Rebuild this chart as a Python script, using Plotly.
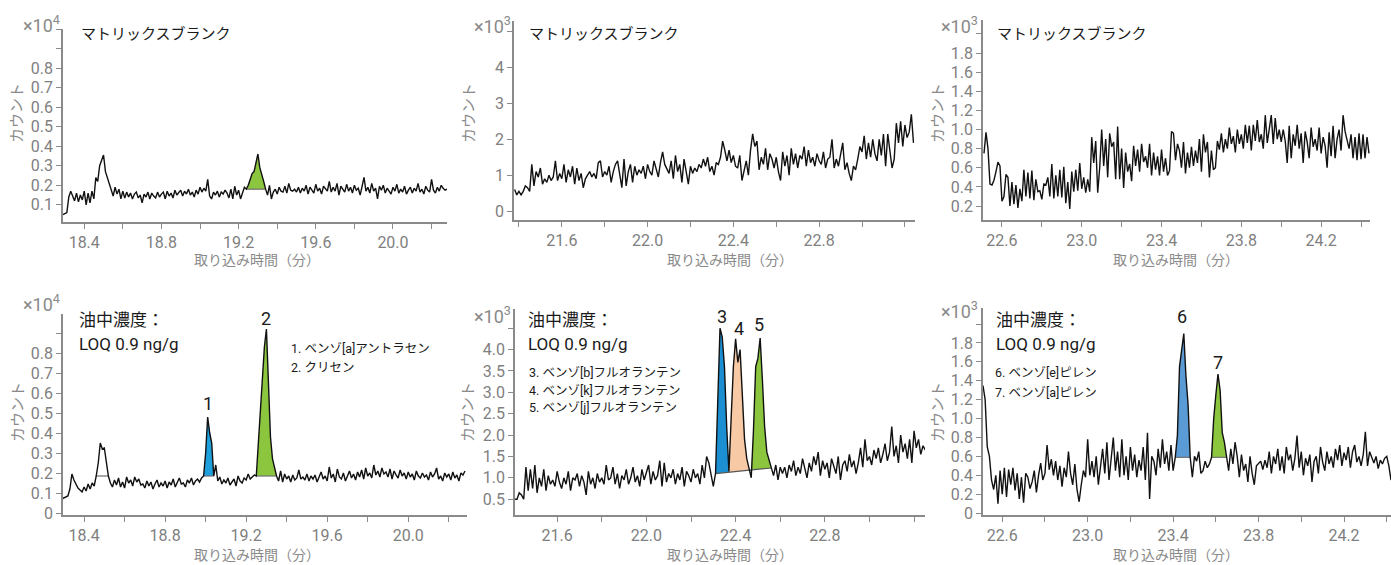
import numpy as np
import plotly.graph_objects as go

W, H = 1391, 565
DT = 0.01  # sampling interval (min)

# ---------------- data (counts) ----------------
# Panel A: top-left, matrix blank, start 18.29 min
a_t0 = 18.29
a_counts = [
    500, 550, 600, 1400, 1700, 1450, 1200, 1600, 1150, 1500,
    1250, 1700, 1000, 1600, 1100, 1700, 1300, 2400, 2200, 3000,
    3300, 3550, 2700, 2400, 2000, 1700, 1450, 1900, 1550, 1800,
    1300, 1700, 1350, 1650, 1400, 1600, 1300, 1550, 1650, 1350,
    1500, 1100, 1550, 1400, 1650, 1300, 1600, 1450, 1350, 1650,
    1400, 1550, 1650, 1300, 1700, 1450, 1600, 1350, 1750, 1500,
    1600, 1750, 1450, 1700, 1550, 1800, 1500, 1650, 1400, 1750,
    1550, 1900, 1650, 1850, 1700, 2300, 1450, 1300, 1650, 1500,
    1700, 1400, 1650, 1550, 1750, 1600, 1350, 1800, 1300, 1950,
    1500, 1750, 1300, 1650, 1900, 1800, 2000, 2300, 2600, 2700,
    3200, 3600, 2900, 2600, 2200, 1800, 1500, 2000, 1300, 1650,
    1800, 1550, 1900, 1700, 1650, 1950, 1600, 2100, 1750, 1700,
    1800, 1650, 1900, 1600, 1850, 1700, 2000, 1550, 1900, 1750,
    1600, 2050, 1700, 1850, 1550, 1950, 1800, 1700, 2200, 1650,
    1900, 1700, 2100, 1500, 1950, 1800, 1650, 2050, 1700, 1900,
    1600, 2000, 1750, 1850, 1500, 1950, 2400, 1700, 1900, 1600,
    2100, 1700, 1850, 1300, 1950, 1750, 2000, 1600, 1850, 1700,
    1550, 1900, 1700, 2050, 1600, 1800, 1650, 1950, 1550, 1750,
    1900, 1600, 1850, 1700, 2100, 1650, 1800, 1550, 1950, 1750,
    1650, 2300, 1750, 1600, 1900, 1700, 2000, 1850, 1750, 1800,
]

# Panel B: top-middle, matrix blank, start 21.38 min
b_t0 = 21.38
b_counts = [
    600, 450, 550, 450, 550, 700, 650, 550, 1300, 700,
    1100, 950, 1200, 750, 900, 800, 1000, 850, 950, 1400,
    850, 1050, 900, 1300, 800, 1150, 950, 1250, 750, 1200,
    850, 1050, 650, 900, 1000, 1100, 950, 1050, 900, 1350,
    1400, 950, 1100, 1000, 1250, 800, 1100, 1300, 1400, 1050,
    650, 1450, 700, 1100, 1300, 800, 1250, 1000, 1150, 1050,
    1250, 900, 1300, 1100, 1000, 1400, 1200, 950, 1350, 1650,
    1300, 1150, 1050, 1400, 900, 1550, 1100, 1300, 800, 1450,
    1150, 750, 1250, 1050, 1200, 1100, 1300, 1200, 1450, 1250,
    1500, 1100, 1250, 1000, 1350, 1300, 1500, 1950, 1700, 1400,
    1700, 1350, 1550, 1250, 1200, 1550, 850, 1100, 1400, 1000,
    1700, 2150, 1800, 1950, 1150, 1500, 1300, 1750, 1150, 1600,
    1450, 1200, 1500, 1100, 850, 1650, 1250, 1550, 1000, 1750,
    1300, 1600, 1200, 1550, 1450, 1800, 1250, 1700, 1350, 1500,
    1250, 1600, 1400, 1300, 1650, 1200, 1450, 1500, 2000, 1200,
    1450, 1250, 1550, 1900, 1150, 1350, 1050, 850, 1250, 1150,
    1450, 1800, 1650, 2100, 1450, 1900, 1500, 2000, 1600, 1400,
    2000, 1550, 2150, 1250, 2150, 1700, 1200, 1450, 2450, 1900,
    2500, 1800, 2400, 2050, 2200, 2700, 1900,
]

# Panel C: top-right, matrix blank, start 22.51 min
c_t0 = 22.51
c_counts = [
    750, 970, 800, 430, 420, 470, 560, 660, 620, 250,
    300, 530, 500, 200, 450, 220, 420, 180, 380, 250,
    580, 300, 550, 280, 570, 260, 480, 350, 360, 270,
    430, 420, 500, 300, 640, 280, 520, 300, 580, 290,
    610, 230, 450, 170, 560, 350, 580, 360, 650, 380,
    500, 340, 480, 350, 920, 650, 880, 340, 600, 1000,
    620, 900, 500, 960, 820, 870, 480, 1030, 480, 800,
    390, 760, 560, 640, 460, 830, 620, 790, 560, 850,
    660, 720, 600, 850, 520, 760, 580, 720, 520, 790,
    560, 700, 520, 570, 980, 960, 680, 850, 780, 600,
    870, 540, 760, 600, 820, 620, 780, 650, 900, 560,
    950, 760, 870, 500, 780, 580, 600, 880, 790, 960,
    760, 900, 800, 1020, 850, 930, 760, 1000, 850, 950,
    800, 1050, 860, 1040, 780, 1050, 880, 1100, 870, 950,
    800, 1150, 860, 1000, 1150, 850, 1120, 900, 1000, 870,
    1000, 880, 650, 1040, 700, 950, 830, 1050, 800, 960,
    650, 980, 870, 700, 1020, 820, 900, 780, 1020, 750,
    920, 830, 600, 970, 720, 1040, 700, 900, 1000, 780,
    1150, 980, 900, 800, 950, 700, 920, 680, 960, 690,
    950, 700, 920, 750,
]

# Panel D: bottom-left, oil sample, start 18.29 min
d_t0 = 18.29
d_counts = [
    700, 750, 800, 850, 1200, 1950, 1650, 1400, 1250, 1150,
    1050, 1300, 1100, 1450, 1200, 1500, 1350, 1850, 2500, 3500,
    3200, 3250, 2600, 1850, 1500, 1300, 1650, 1400, 1750, 1300,
    1550, 1250, 1800, 1500, 1650, 1350, 1800, 1550, 1700, 1400,
    1450, 1250, 1600, 1350, 1550, 1200, 1450, 1650, 1300, 1500,
    1350, 1600, 1250, 1550, 1400, 1700, 1300, 1550, 1750, 1450,
    1500, 1300, 1650, 1500, 1750, 1400, 1600, 1700, 1550, 1750,
    1850, 3000, 4800, 4000, 3500, 1850, 2400, 1600, 1800, 1450,
    1650, 1500, 1750, 1400, 1550, 1700, 1350, 1850, 1600, 1500,
    1750, 1650, 1950, 1700, 1800, 1900, 1850, 3500, 5500, 6900,
    8300, 9200, 6000, 3800, 2700, 2200, 1850, 1600, 2100, 1550,
    1950, 1700, 1850, 1550, 1900, 1650, 1750, 2150, 1700, 1800,
    1650, 1950, 1600, 1850, 1700, 1900, 1550, 1800, 2050, 1700,
    1850, 1600, 2300, 1750, 1950, 1550, 2200, 1800, 1700, 2000,
    1600, 1850, 2100, 1750, 1950, 1650, 2050, 1800, 2150, 1700,
    2250, 1850, 2000, 1750, 2400, 1900, 2100, 1800, 2250, 1950,
    2050, 1800, 2200, 1700, 2100, 1900, 1750, 2150, 1850, 2000,
    1700, 2050, 1800, 1950, 1650, 2100, 1850, 1750, 2000, 1800,
    1900, 1650, 2050, 1800, 1950, 2250, 1700, 1850, 1600, 2000,
    1800, 1950, 1650, 2050, 1750, 1900, 1600, 2000, 1900, 2100,
]

# Panel E: bottom-middle, oil sample, start 21.41 min
e_t0 = 21.41
e_counts = [
    500, 500, 650, 600, 500, 1250, 700, 1200, 750, 1300,
    650, 1000, 800, 1200, 700, 1050, 850, 950, 800, 1150,
    900, 750, 1000, 850, 1150, 700, 1000, 950, 1100, 800,
    1050, 900, 600, 1150, 850, 1000, 750, 1100, 900, 1000,
    850, 1300, 950, 1000, 1250, 850, 1100, 750, 1050, 950,
    1200, 850, 1000, 1250, 900, 1050, 800, 1200, 950, 1100,
    1300, 850, 1150, 950, 1050, 1400, 800, 1350, 900, 1100,
    1000, 1200, 850, 1100, 950, 1250, 800, 1150, 1050, 900,
    1200, 1000, 1100, 850, 1300, 1000, 1500, 1350, 1050, 800,
    1100, 2700, 4500, 4300, 3600, 2200, 1150, 2400, 3600, 4250,
    3700, 4000, 2900, 1900, 1450, 1200, 1000, 2100, 3600, 3800,
    4270, 3300, 2200, 1600, 1400, 1250, 1050, 1300, 950, 1250,
    1100, 1250, 1000, 1300, 1150, 1400, 1050, 1250, 1100, 1450,
    1200, 1000, 1350, 1150, 1500, 1300, 1600, 1050, 1400, 1200,
    1350, 1000, 1450, 1250, 1100, 1500, 950, 1300, 1400, 1150,
    1550, 1250, 1400, 1100, 1350, 1700, 1250, 1900, 1400, 1500,
    1300, 1650, 1450, 1700, 1350, 1550, 1800, 1400, 1600, 2200,
    1500, 1750, 1350, 2000, 1600, 1800, 1450, 1900, 1350, 2100,
    1700, 1900, 1550, 1750, 1650,
]

# Panel F: bottom-right, oil sample, start 22.51 min
f_t0 = 22.51
f_counts = [
    1350, 1200, 700, 600, 350, 250, 400, 100, 450, 200,
    480, 170, 460, 300, 480, 240, 420, 150, 380, 110,
    420, 380, 260, 330, 450, 220, 400, 530, 350, 420,
    720, 460, 570, 400, 550, 350, 500, 280, 480, 380,
    650, 420, 300, 520, 250, 120, 300, 450, 380, 780,
    400, 550, 380, 600, 300, 480, 680, 420, 750, 350,
    550, 800, 450, 650, 380, 780, 400, 600, 350, 700,
    450, 620, 380, 560, 450, 700, 350, 850, 150, 600,
    550, 400, 680, 480, 780, 520, 650, 450, 720, 450,
    590, 820, 1550, 1700, 1900, 1450, 1150, 590, 380, 600,
    550, 650, 420, 450, 550, 480, 520, 590, 1000, 1250,
    1470, 1300, 850, 750, 590, 450, 680, 520, 750, 600,
    380, 620, 450, 520, 330, 600, 420, 300, 500, 520,
    550, 460, 560, 480, 650, 420, 600, 520, 680, 450,
    600, 420, 700, 560, 620, 450, 580, 820, 480, 650,
    400, 580, 500, 620, 330, 550, 600, 420, 700, 540,
    450, 650, 520, 600, 480, 680, 560, 720, 500, 640,
    560, 700, 480, 650, 720, 540, 600, 500, 620, 860,
    500, 650, 580, 530, 600, 470, 560, 520, 580, 600,
    500, 350,
]

# integrated peak windows: (start, end, baseline at start, baseline at end, fill colour)
GREEN = "#8cc63f"
BLUE1 = "#1ea0dc"
BLUE3 = "#1b8fd2"
BLUE6 = "#5b9bd5"
PEACH = "#f8c9a5"
a_peaks = [(19.24, 19.34, 1800, 1800, GREEN)]
d_peaks = [(18.46, 18.52, 1850, 1850, None),
           (18.99, 19.04, 1850, 1850, BLUE1),
           (19.25, 19.35, 1850, 1850, GREEN)]
e_base = (22.31, 22.56, 1100, 1230)
e_peaks = [(22.31, 22.37, BLUE3), (22.37, 22.46, PEACH), (22.47, 22.56, GREEN)]
f_peaks = [(23.41, 23.48, 590, 590, BLUE6),
           (23.58, 23.65, 590, 590, GREEN)]

# tick definitions
x_ticks_a = [18.4, 18.6, 18.8, 19.0, 19.2, 19.4, 19.6, 19.8, 20.0, 20.2]
x_lbls_a = ["18.4", "", "18.8", "", "19.2", "", "19.6", "", "20.0", ""]
x_ticks_b = [21.4, 21.6, 21.8, 22.0, 22.2, 22.4, 22.6, 22.8, 23.0, 23.2]
x_lbls_b = ["", "21.6", "", "22.0", "", "22.4", "", "22.8", "", ""]
x_ticks_c = [22.6, 22.8, 23.0, 23.2, 23.4, 23.6, 23.8, 24.0, 24.2, 24.4]
x_lbls_c = ["22.6", "", "23.0", "", "23.4", "", "23.8", "", "24.2", ""]

y_ticks_a = [1000, 2000, 3000, 4000, 5000, 6000, 7000, 8000, 9000, 10000]
y_lbls_a = ["0.1", "0.2", "0.3", "0.4", "0.5", "0.6", "0.7", "0.8", "", ""]
y_ticks_b = [0, 1000, 2000, 3000, 4000, 5000]
y_lbls_b = ["0", "1", "2", "3", "4", ""]
y_ticks_c = [200, 400, 600, 800, 1000, 1200, 1400, 1600, 1800, 2000]
y_lbls_c = ["0.2", "0.4", "0.6", "0.8", "1.0", "1.2", "1.4", "1.6", "1.8", ""]
y_ticks_d = [0, 1000, 2000, 3000, 4000, 5000, 6000, 7000, 8000, 9000, 10000]
y_lbls_d = ["0", "0.1", "0.2", "0.3", "0.4", "0.5", "0.6", "0.7", "0.8", "", ""]
y_ticks_e = [500, 1000, 1500, 2000, 2500, 3000, 3500, 4000, 4500]
y_lbls_e = ["0.5", "1.0", "1.5", "2.0", "2.5", "3.0", "3.5", "4.0", ""]
y_ticks_f = [0, 200, 400, 600, 800, 1000, 1200, 1400, 1600, 1800, 2000]
y_lbls_f = ["0", "0.2", "0.4", "0.6", "0.8", "1.0", "1.2", "1.4", "1.6", "1.8", ""]

# ---------------- figure ----------------
FONT = "Roboto, 'Noto Sans CJK JP', sans-serif"
AX = "#8a8a8a"
TICKC = "#808080"


def px(x):
    return x / W


def py(y):
    return 1 - y / H


def sampling(t0, n):
    return np.round(t0 + DT * np.arange(n), 2)


panels = [
    dict(t0=a_t0, y=a_counts, dx=(63, 447), dy=(29, 222), xr=[18.29, 20.28], yr=[120, 10000],
         xt=x_ticks_a, xl=x_lbls_a, yt=y_ticks_a, yl=y_lbls_a),
    dict(t0=b_t0, y=b_counts, dx=(514, 915), dy=(21, 220), xr=[21.377, 23.247], yr=[-250, 5300],
         xt=x_ticks_b, xl=x_lbls_b, yt=y_ticks_b, yl=y_lbls_b),
    dict(t0=c_t0, y=c_counts, dx=(983, 1370), dy=(20, 220), xr=[22.505, 24.445], yr=[54, 2145],
         xt=x_ticks_c, xl=x_lbls_c, yt=y_ticks_c, yl=y_lbls_c),
    dict(t0=d_t0, y=d_counts, dx=(63, 467), dy=(314, 515), xr=[18.296, 20.29], yr=[-100, 9950],
         xt=x_ticks_a, xl=x_lbls_a, yt=y_ticks_d, yl=y_lbls_d),
    dict(t0=e_t0, y=e_counts, dx=(515, 925), dy=(309, 515), xr=[21.411, 23.249], yr=[130, 4950],
         xt=x_ticks_b, xl=x_lbls_b, yt=y_ticks_e, yl=y_lbls_e),
    dict(t0=f_t0, y=f_counts, dx=(983, 1391), dy=(308, 515), xr=[22.51, 24.42], yr=[-20, 2170],
         xt=x_ticks_c, xl=x_lbls_c, yt=y_ticks_f, yl=y_lbls_f),
]

fig = go.Figure()
layout = dict(template="none", width=W, height=H,
              margin=dict(l=0, r=0, t=0, b=0, autoexpand=False),
              paper_bgcolor="white", plot_bgcolor="white", showlegend=False,
              font=dict(family=FONT))


def add_peak(t, y, t0, t1, b0, b1, color, xa, ya):
    mask = (t >= t0 - 1e-9) & (t <= t1 + 1e-9)
    tt = t[mask]
    base = np.interp(tt, [t0, t1], [b0, b1])
    if color is not None:
        yy = np.maximum(y[mask], base)
        fig.add_trace(go.Scatter(x=list(tt) + [t1, t0], y=list(yy) + [b1, b0],
                                 fill="toself", fillcolor=color, mode="lines",
                                 line=dict(width=0), xaxis=xa, yaxis=ya, hoverinfo="skip"))


for i, p in enumerate(panels):
    k = "" if i == 0 else str(i + 1)
    xa, ya = "x" + k, "y" + k
    t = sampling(p["t0"], len(p["y"]))
    y = np.array(p["y"], dtype=float)

    if i == 0:
        for (t0, t1, b0, b1, c) in a_peaks:
            add_peak(t, y, t0, t1, b0, b1, c, xa, ya)
            fig.add_trace(go.Scatter(x=[t0, t1], y=[b0, b1], mode="lines",
                                     line=dict(color="#6e6e6e", width=1.2), xaxis=xa, yaxis=ya))
    if i == 3:
        for (t0, t1, b0, b1, c) in d_peaks:
            add_peak(t, y, t0, t1, b0, b1, c, xa, ya)
            fig.add_trace(go.Scatter(x=[t0, t1], y=[b0, b1], mode="lines",
                                     line=dict(color="#6e6e6e", width=1.2), xaxis=xa, yaxis=ya))
    if i == 4:
        bt0, bt1, bb0, bb1 = e_base
        for (t0, t1, c) in e_peaks:
            b0 = float(np.interp(t0, [bt0, bt1], [bb0, bb1]))
            b1 = float(np.interp(t1, [bt0, bt1], [bb0, bb1]))
            add_peak(t, y, t0, t1, b0, b1, c, xa, ya)
        fig.add_trace(go.Scatter(x=[bt0, bt1], y=[bb0, bb1], mode="lines",
                                 line=dict(color="#555555", width=1.2), xaxis=xa, yaxis=ya))
    if i == 5:
        for (t0, t1, b0, b1, c) in f_peaks:
            add_peak(t, y, t0, t1, b0, b1, c, xa, ya)
            fig.add_trace(go.Scatter(x=[t0, t1], y=[b0, b1], mode="lines",
                                     line=dict(color="#6e6e6e", width=1.2), xaxis=xa, yaxis=ya))

    fig.add_trace(go.Scatter(x=t, y=y, mode="lines", line=dict(color="#111111", width=1.4),
                             xaxis=xa, yaxis=ya, hoverinfo="skip"))

    common = dict(showline=True, linecolor=AX, linewidth=1.5, ticks="outside", ticklen=5,
                  tickcolor=AX, tickwidth=1.3, showgrid=False, zeroline=False, automargin=False,
                  tickfont=dict(family=FONT, size=16, color=TICKC), tickmode="array")
    layout["xaxis" + k] = dict(common, domain=[px(p["dx"][0]), px(p["dx"][1])], range=p["xr"],
                               tickvals=p["xt"], ticktext=p["xl"], anchor=ya)
    layout["yaxis" + k] = dict(common, domain=[py(p["dy"][1]), py(p["dy"][0])], range=p["yr"],
                               tickvals=p["yt"], ticktext=p["yl"], anchor=xa)

anns = []


def ann(text, x, y, size, color="#1a1a1a", xanchor="left", angle=0):
    anns.append(dict(text=text, x=px(x), y=py(y), xref="paper", yref="paper",
                     xanchor=xanchor, yanchor="middle", showarrow=False, textangle=angle,
                     borderpad=0, font=dict(family=FONT, size=size, color=color)))


# multiplier labels
for (txt, x, y) in [("×10<sup>4</sup>", 61, 24), ("×10<sup>3</sup>", 512, 25), ("×10<sup>3</sup>", 979, 25),
                    ("×10<sup>4</sup>", 61, 303), ("×10<sup>3</sup>", 512, 315), ("×10<sup>3</sup>", 979, 310)]:
    ann(txt, x, y, 18, color="#8a8a8a", xanchor="right")

# axis titles
for (x, y) in [(17, 113), (469, 113), (938, 113), (18, 412), (468, 412), (938, 412)]:
    ann("カウント", x, y, 15, color="#8a8a8a", xanchor="center", angle=-90)
for (x, y) in [(257, 260), (730, 260), (1176, 260), (257, 555), (730, 555), (1176, 555)]:
    ann("取り込み時間（分）", x, y, 14, color="#8a8a8a", xanchor="center")

# panel labels
for x in [80, 528, 996]:
    ann("マトリックスブランク", x, 34, 15)
for x in [78, 527, 995]:
    ann("油中濃度：", x, 320, 17)
    ann("LOQ 0.9 ng/g", x, 344, 17)

ann("1. ベンゾ[a]アントラセン", 290, 348, 12.5)
ann("2. クリセン", 290, 367, 12.5)
ann("3. ベンゾ[b]フルオランテン", 528, 372, 12.5)
ann("4. ベンゾ[k]フルオランテン", 528, 390, 12.5)
ann("5. ベンゾ[j]フルオランテン", 528, 407, 12.5)
ann("6. ベンゾ[e]ピレン", 994, 372, 12.5)
ann("7. ベンゾ[a]ピレン", 994, 393, 12.5)

# peak numbers
for (txt, x, y) in [("1", 208, 403), ("2", 266, 318), ("3", 722, 316), ("4", 739, 328),
                    ("5", 759, 324), ("6", 1182, 316), ("7", 1218, 362)]:
    ann(txt, x, y, 18, xanchor="center")

layout["annotations"] = anns
fig.update_layout(**layout)
fig.write_html("out.html", config={"displayModeBar": False},
               post_script="document.body.style.margin='0';document.body.style.overflow='hidden';")
